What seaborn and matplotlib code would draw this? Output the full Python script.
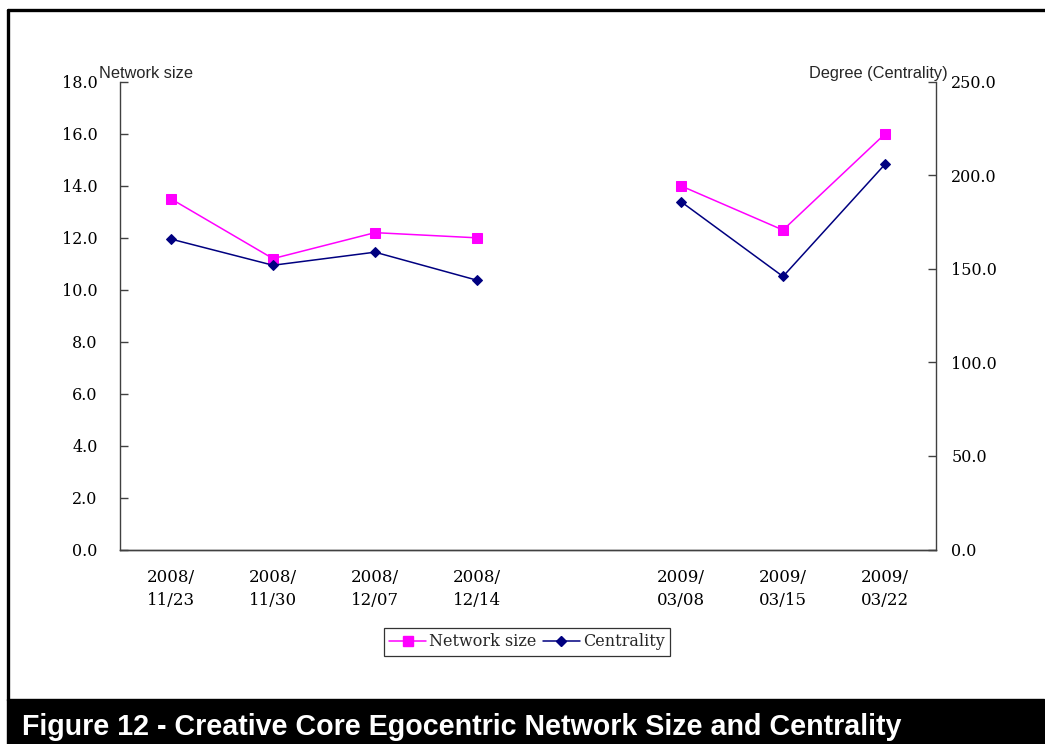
import numpy as np
import pandas as pd
import matplotlib
matplotlib.use("Agg")
import matplotlib.pyplot as plt
from matplotlib.lines import Line2D
from matplotlib.patches import Rectangle
import seaborn as sns

# ---- data ----
dates = ["2008/\n11/23", "2008/\n11/30", "2008/\n12/07", "2008/\n12/14", "",
         "2009/\n03/08", "2009/\n03/15", "2009/\n03/22"]
network_size = [13.5, 11.2, 12.2, 12.0, np.nan, 14.0, 12.3, 16.0]
centrality = [166, 152, 159, 144, np.nan, 186, 146, 206]
segment = [0, 0, 0, 0, 0, 1, 1, 1]
left_ticks = [0, 2, 4, 6, 8, 10, 12, 14, 16, 18]
right_ticks = [0, 50, 100, 150, 200, 250]

df = pd.DataFrame({"pos": np.arange(len(dates)), "size": network_size,
                   "cent": centrality, "seg": segment})

sns.set_theme(style="white")
plt.rcParams["font.family"] = ["DejaVu Serif"]
SANS = ["Liberation Sans", "DejaVu Sans"]

MAG = "#FF00FF"
NAVY = "#000080"
SPINE = "#404040"

fig = plt.figure(figsize=(10.45, 7.44), dpi=100)
fig.patch.set_facecolor("white")
ax = fig.add_axes([120 / 1045, 1 - 549.5 / 744, 816 / 1045, 467.5 / 744])
ax2 = ax.twinx()

sns.lineplot(data=df.dropna(), x="pos", y="size", units="seg", estimator=None,
             ax=ax, color=MAG, marker="s", markersize=7, markeredgecolor=MAG,
             linewidth=1.1, legend=False)
sns.lineplot(data=df.dropna(), x="pos", y="cent", units="seg", estimator=None,
             ax=ax2, color=NAVY, marker="D", markersize=5.5, markeredgecolor=NAVY,
             linewidth=1.1, legend=False)

n = len(dates)
for a in (ax, ax2):
    a.set_xlim(-0.5, n - 0.5)
    a.set_xlabel("")
    a.set_ylabel("")
    a.set_facecolor("none")
    for s in a.spines.values():
        s.set_color(SPINE)
        s.set_linewidth(1.0)
    a.spines["top"].set_visible(False)

ax.set_ylim(0, 18)
ax2.set_ylim(0, 250)
ax.set_yticks(left_ticks)
ax.set_yticklabels([f"{v:.1f}" for v in left_ticks], fontsize=11.5)
ax2.set_yticks(right_ticks)
ax2.set_yticklabels([f"{v:.1f}" for v in right_ticks], fontsize=11.5)

ax.set_xticks(np.arange(n))
ax.set_xticklabels(dates, fontsize=12, linespacing=1.45)
ax.set_xticks(np.arange(n + 1) - 0.5, minor=True)
ax.tick_params(axis="x", which="major", length=0, pad=14, colors="black")
ax.tick_params(axis="x", which="minor", direction="in", length=6, width=1, color=SPINE)
ax2.tick_params(axis="x", which="both", length=0, labelbottom=False)
ax.tick_params(axis="y", direction="in", length=6, width=1, color=SPINE, pad=16,
               left=True, labelcolor="black")
ax2.tick_params(axis="y", direction="in", length=6, width=1, color=SPINE, pad=11,
                right=True, labelcolor="black")
ax.spines["right"].set_visible(False)
ax2.spines["left"].set_visible(False)

# axis titles
fig.text(99 / 1045, 1 - 78 / 744, "Network size", fontsize=11.8,
         family=SANS, ha="left", va="baseline")
fig.text(948 / 1045, 1 - 78 / 744, "Degree (Centrality)", fontsize=11.8,
         family=SANS, ha="right", va="baseline")

# legend
handles = [Line2D([], [], color=MAG, marker="s", markersize=7, linewidth=1.1),
           Line2D([], [], color=NAVY, marker="D", markersize=5.5, linewidth=1.1)]
leg = fig.legend(handles, ["Network size", "Centrality"], ncol=2,
                 loc="center", bbox_to_anchor=(527 / 1045, 1 - 642 / 744),
                 fontsize=11.5, frameon=True, fancybox=False, handlelength=2.3,
                 handletextpad=0.2, columnspacing=0.4, borderpad=0.35,
                 borderaxespad=0)
leg.get_frame().set_edgecolor("black")
leg.get_frame().set_linewidth(0.9)

# border and title bar
fig.add_artist(Line2D([8 / 1045, 1.0], [1 - 10 / 744, 1 - 10 / 744],
                      color="black", linewidth=2.4, transform=fig.transFigure))
fig.add_artist(Line2D([8 / 1045, 8 / 1045], [1 - 10 / 744, 1 - 700 / 744],
                      color="black", linewidth=2.4, transform=fig.transFigure))
fig.add_artist(Rectangle((7 / 1045, 0), 1037 / 1045, 45 / 744, color="black",
                         transform=fig.transFigure))
fig.text(22 / 1045, 1 - 735 / 744,
         "Figure 12 - Creative Core Egocentric Network Size and Centrality",
         color="white", fontsize=20.6, fontweight="bold",
         family=SANS, ha="left", va="baseline")

fig.savefig("out.png", dpi=100)
